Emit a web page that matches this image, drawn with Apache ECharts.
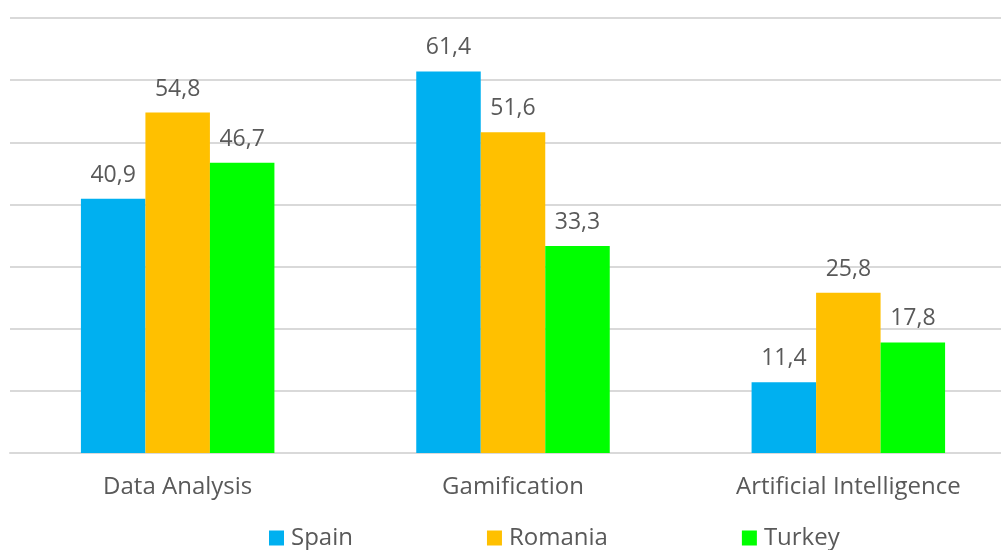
<!DOCTYPE html>
<html>
<head>
<meta charset="utf-8">
<script src="https://cdn.jsdelivr.net/npm/echarts@6/dist/echarts.min.js"></script>
<style>
  html, body { margin: 0; padding: 0; background: #ffffff; overflow: hidden; }
  #chart { width: 1016px; height: 550px; }
</style>
</head>
<body>
<div id="chart"></div>
<script>
const categories = ['Data Analysis', 'Gamification', 'Artificial Intelligence'];
const seriesNames = ['Spain', 'Romania', 'Turkey'];
const spain = [40.9, 61.4, 11.4];
const romania = [54.8, 51.6, 25.8];
const turkey = [46.7, 33.3, 17.8];
const colors = ['#00B0F0', '#FFC000', '#00FF00'];

const font = '"Open Sans", "Noto Sans", sans-serif';
const textColor = '#595959';

function barSeries(name, data, color) {
  return {
    name: name,
    type: 'bar',
    data: data,
    barWidth: 64.5,
    barGap: '0%',
    itemStyle: { color: color },
    label: {
      show: true,
      position: 'top',
      distance: 12,
      color: textColor,
      fontFamily: font,
      fontSize: 23,
      formatter: p => String(p.value).replace('.', ',')
    }
  };
}

const chart = echarts.init(document.getElementById('chart'), null, { renderer: 'canvas' });
chart.setOption({
  animation: false,
  backgroundColor: '#ffffff',
  grid: { left: 10, top: 18, right: 0, height: 435, containLabel: false },
  legend: {
    data: seriesNames,
    top: 526,
    left: 269,
    padding: 0,
    itemWidth: 15,
    itemHeight: 15,
    itemGap: 134,
    icon: 'rect',
    textStyle: { color: textColor, fontFamily: font, fontSize: 24, padding: [0, 0, 0, 2] }
  },
  xAxis: {
    type: 'category',
    data: categories,
    axisLine: { show: true, lineStyle: { color: '#D9D9D9', width: 2 } },
    axisTick: { show: false },
    axisLabel: { color: textColor, fontFamily: font, fontSize: 24, margin: 22 }
  },
  yAxis: {
    type: 'value',
    min: 0,
    max: 70,
    interval: 10,
    axisLabel: { show: false },
    axisLine: { show: false },
    axisTick: { show: false },
    splitLine: { lineStyle: { color: '#D9D9D9', width: 2 } }
  },
  series: [
    barSeries(seriesNames[0], spain, colors[0]),
    barSeries(seriesNames[1], romania, colors[1]),
    barSeries(seriesNames[2], turkey, colors[2])
  ]
});
</script>
</body>
</html>
